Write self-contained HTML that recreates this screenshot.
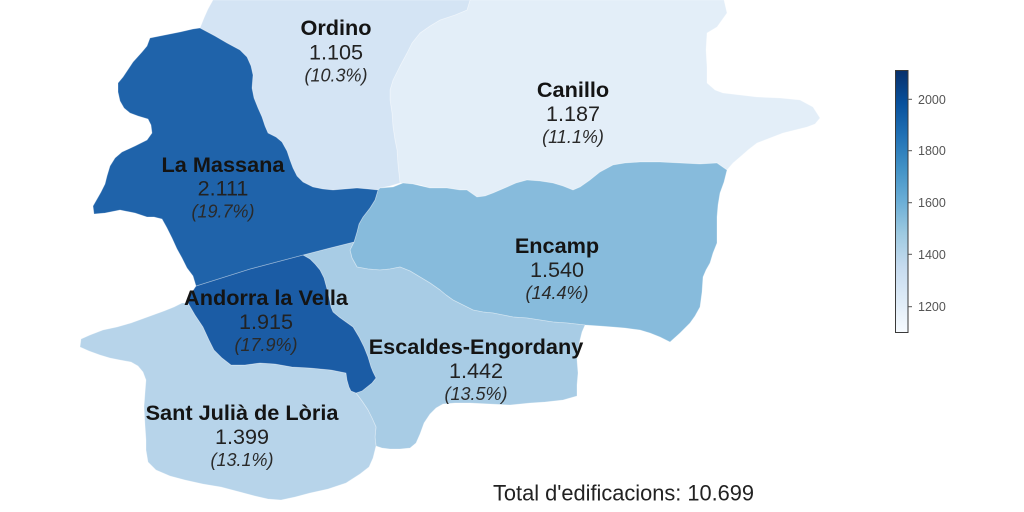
<!DOCTYPE html>
<html><head><meta charset="utf-8"><style>
html,body{margin:0;padding:0;background:#fff;}
svg{display:block;}
.n{font-family:"Liberation Sans",Arial,sans-serif;font-weight:bold;font-size:21.7px;fill:#141414;text-anchor:middle;}
.v{font-family:"Liberation Sans",Arial,sans-serif;font-size:21.6px;fill:#222;text-anchor:middle;}
.p{font-family:"Liberation Sans",Arial,sans-serif;font-style:italic;font-size:18px;fill:#2a2a2a;text-anchor:middle;}
.t{font-family:"Liberation Sans",Arial,sans-serif;font-size:12.5px;fill:#555;}
</style></head><body>
<svg width="1024" height="512" viewBox="0 0 1024 512" xmlns="http://www.w3.org/2000/svg">
<defs>
<linearGradient id="cb" x1="0" y1="1" x2="0" y2="0">
<stop offset="0" stop-color="#f7fbff"/>
<stop offset="0.125" stop-color="#deebf7"/>
<stop offset="0.25" stop-color="#c6dbef"/>
<stop offset="0.375" stop-color="#9ecae1"/>
<stop offset="0.5" stop-color="#6baed6"/>
<stop offset="0.625" stop-color="#4292c6"/>
<stop offset="0.75" stop-color="#2171b5"/>
<stop offset="0.875" stop-color="#08519c"/>
<stop offset="1" stop-color="#08306b"/>
</linearGradient>
</defs>
<g stroke="#ffffff" stroke-opacity="0.35" stroke-width="0.8" stroke-linejoin="round">
<!-- Canillo -->
<polygon fill="#e3eef8" points="470,0 724,0 727,13 717,27 707,33 706,50 707,67 707,83 715,90 723,93 740,95 757,97 780,98 800,100 813,107 820,118 815,124 807,127 795,130 783,133 770,138 757,143 748,150 740,157 733,163 727,170 717,163 700,164 680,163 660,162 640,162 625,163 613,165 600,172 590,180 580,187 573,190 563,186 553,183 540,181 527,180 516,183 507,187 500,190 493,193 485,196 477,197 467,190 460,190 447,188 430,188 420,185 413,184 403,183 400,183 398,165 397,150 395,140 393,127 392,113 390,100 390,90 393,80 400,66 407,53 412,43 420,33 430,26 440,20 455,15 467,10"/>
<!-- Ordino -->
<polygon fill="#d4e4f4" points="213,0 470,0 467,10 455,15 440,20 430,26 420,33 412,43 407,53 400,66 393,80 390,90 390,100 392,113 393,127 395,140 397,150 398,165 400,183 390,186 380,188 378,190 368,189 357,188 345,189 333,190 323,189 313,187 303,182 297,176 293,168 290,160 287,151 282,142 276,137 268,133 265,126 262,117 258,108 254,98 252,88 253,75 251,66 247,57 240,50 227,43 215,36 200,28 204,18 208,9"/>
<!-- Encamp -->
<polygon fill="#87bbdc" points="378,190 380,188 393,187 403,183 413,184 430,188 447,188 460,190 467,190 477,197 485,196 493,193 500,190 507,187 516,183 527,180 540,181 553,183 563,186 573,190 580,187 590,180 600,172 613,165 625,163 640,162 660,162 680,163 700,164 717,163 727,170 724,182 720,193 718,205 717,217 717,230 717,243 713,253 710,263 706,270 703,277 702,292 700,307 695,316 690,323 680,333 670,342 660,337 650,333 640,330 625,328 613,327 600,326 585,325 567,323 553,322 540,320 527,318 513,317 503,315 493,313 483,312 473,310 463,305 453,300 446,295 440,290 430,283 420,277 410,271 400,267 390,269 380,270 368,269 357,267 352,258 350,250 354,242 357,232 359,224 363,217 370,208 375,200"/>
<!-- Escaldes-Engordany -->
<polygon fill="#a8cce5" points="303,255 330,248 354,242 350,250 352,258 357,267 368,269 380,270 390,269 400,267 410,271 420,277 430,283 440,290 446,295 453,300 463,305 473,310 483,312 493,313 503,315 513,317 527,318 540,320 553,322 567,323 585,325 582,332 580,340 578,350 577,360 578,373 577,385 577,396 563,400 545,402 530,403 510,405 490,404 470,403 455,403 443,404 436,408 430,414 424,423 420,434 416,443 410,448 400,449 390,449 382,448 376,446 375,437 376,427 372,418 368,410 362,401 356,393 362,391 367,387 372,383 376,378 373,372 371,367 368,357 364,347 359,337 353,327 346,322 339,317 333,312 331,307 329,297 327,289 324,278 320,270 315,264 310,259"/>
<!-- Sant Julia -->
<polygon fill="#b7d4ea" points="80,347 81,339 90,335 103,330 117,327 131,323 142,319 153,315 164,311 174,307 182,303 188,303 195,315 203,327 209,340 214,350 222,358 231,365 245,365 260,363 275,364 292,367 310,368 331,370 346,373 347,380 349,387 351,391 356,393 362,401 368,410 372,418 376,427 375,437 376,446 373,458 369,467 360,474 346,483 328,489 310,493 295,497 281,500 268,499 255,496 240,492 221,487 203,484 185,480 170,476 156,470 148,462 146,450 146,440 145,425 144,407 145,393 146,380 143,372 138,366 131,362 120,360 110,358 100,355 89,351"/>
<!-- Andorra la Vella -->
<polygon fill="#1b5ca5" points="196,286 250,269 303,255 310,259 315,264 320,270 324,278 327,289 329,297 331,307 333,312 339,317 346,322 353,327 359,337 364,347 368,357 371,367 373,372 376,378 372,383 367,387 362,391 356,393 351,391 349,387 347,380 346,373 331,370 310,368 292,367 275,364 260,363 245,365 231,365 222,358 214,350 209,340 203,327 195,315 188,303 190,295"/>
<!-- La Massana -->
<polygon fill="#1f63aa" points="193,29 200,28 215,36 227,43 240,50 247,57 251,66 253,75 252,88 254,98 258,108 262,117 265,126 268,133 276,137 282,142 287,151 290,160 293,168 297,176 303,182 313,187 323,189 333,190 345,189 357,188 368,189 378,190 375,200 370,208 363,217 359,224 357,232 354,242 330,248 303,255 250,269 196,286 193,276 187,268 182,258 177,249 172,238 167,228 162,219 154,217 147,217 135,213 120,210 105,213 94,214 93,206 97,199 101,192 105,184 107,176 110,166 115,158 122,152 135,146 147,140 152,133 151,125 148,119 138,116 130,113 124,108 120,101 118,92 118,83 123,77 133,62 142,52 147,46 150,38 165,35 180,32"/>
</g>

<!-- Labels -->
<text class="n" x="336" y="35">Ordino</text>
<text class="v" x="336" y="59.5">1.105</text>
<text class="p" x="336" y="81.5">(10.3%)</text>

<text class="n" x="573" y="97">Canillo</text>
<text class="v" x="573" y="121">1.187</text>
<text class="p" x="573" y="143">(11.1%)</text>

<text class="n" x="223" y="172">La Massana</text>
<text class="v" x="223" y="195.5">2.111</text>
<text class="p" x="223" y="217.5">(19.7%)</text>

<text class="n" x="557" y="253">Encamp</text>
<text class="v" x="557" y="277">1.540</text>
<text class="p" x="557" y="299">(14.4%)</text>

<text class="n" x="266" y="305">Andorra la Vella</text>
<text class="v" x="266" y="329">1.915</text>
<text class="p" x="266" y="351">(17.9%)</text>

<text class="n" x="476" y="354">Escaldes-Engordany</text>
<text class="v" x="476" y="378">1.442</text>
<text class="p" x="476" y="400">(13.5%)</text>

<text class="n" x="242" y="420">Sant Julià de Lòria</text>
<text class="v" x="242" y="444">1.399</text>
<text class="p" x="242" y="466">(13.1%)</text>

<text x="493" y="500.5" style="font-family:'Liberation Sans',Arial,sans-serif;font-size:21.8px;fill:#222;">Total d'edificacions: 10.699</text>

<!-- Colorbar -->
<rect x="895.5" y="70.5" width="12.5" height="262" fill="url(#cb)" stroke="#3a3a3a" stroke-width="1"/>
<g stroke="#555" stroke-width="1">
<line x1="908" y1="99.3" x2="912" y2="99.3"/>
<line x1="908" y1="150.7" x2="912" y2="150.7"/>
<line x1="908" y1="202.7" x2="912" y2="202.7"/>
<line x1="908" y1="254.3" x2="912" y2="254.3"/>
<line x1="908" y1="306.7" x2="912" y2="306.7"/>
</g>
<text class="t" x="918" y="103.8">2000</text>
<text class="t" x="918" y="155.2">1800</text>
<text class="t" x="918" y="207.2">1600</text>
<text class="t" x="918" y="258.8">1400</text>
<text class="t" x="918" y="311.2">1200</text>
</svg>
</body></html>
